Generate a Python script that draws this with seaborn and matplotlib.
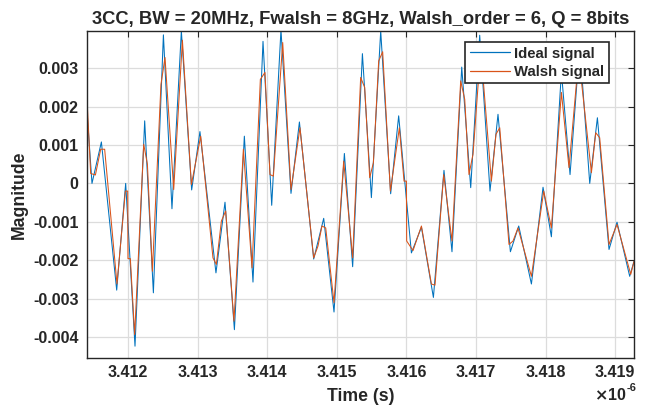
import matplotlib

matplotlib.use("Agg")

import matplotlib.pyplot as plt
from matplotlib.lines import Line2D
import numpy as np
import pandas as pd
import seaborn as sns

# time in ns, magnitude in units of 1e-3
ideal_t = [3411.411, 3411.483, 3411.618, 3411.838, 3411.967, 3412.101, 3412.240, 3412.365,
           3412.509, 3412.632, 3412.767, 3412.915, 3413.034, 3413.264, 3413.394, 3413.529,
           3413.672, 3413.796, 3413.940, 3414.065, 3414.198, 3414.342, 3414.463, 3414.668,
           3414.812, 3414.960, 3415.109, 3415.228, 3415.368, 3415.497, 3415.631, 3415.774,
           3415.889, 3416.072, 3416.216, 3416.388, 3416.540, 3416.655, 3416.795, 3416.924,
           3417.053, 3417.201, 3417.316, 3417.494, 3417.614, 3417.796, 3417.963, 3418.083,
           3418.227, 3418.351, 3418.490, 3418.634, 3418.744, 3418.911, 3419.026, 3419.208,
           3419.270]
ideal_v = [1.90, 0.00, 1.08, -2.78, 0.00, -4.24, 1.63, -2.85,
           3.87, -0.66, 3.97, -0.17, 1.35, -2.33, -0.49, -3.81,
           1.23, -2.57, 3.70, -0.57, 4.00, -0.26, 1.60, -1.97,
           -0.91, -3.35, 0.78, -2.17, 3.38, -0.37, 3.97, -0.27,
           1.76, -1.81, -1.14, -2.97, 0.34, -1.78, 3.03, -0.11,
           3.86, -0.20, 1.80, -1.78, -1.11, -2.62, -0.10, -1.39,
           2.90, 0.23, 3.60, 0.00, 1.71, -1.72, -1.01, -2.42,
           -2.03]

walsh_t = [3411.417, 3411.464, 3411.532, 3411.608, 3411.665, 3411.842, 3411.963, 3411.996,
           3412.000, 3412.034, 3412.096, 3412.226, 3412.279, 3412.351, 3412.474, 3412.532,
           3412.657, 3412.782, 3412.911, 3413.045, 3413.221, 3413.270, 3413.342, 3413.404,
           3413.523, 3413.658, 3413.782, 3413.902, 3413.968, 3414.040, 3414.089, 3414.223,
           3414.342, 3414.471, 3414.668, 3414.730, 3414.787, 3414.841, 3414.960, 3415.099,
           3415.228, 3415.343, 3415.401, 3415.473, 3415.526, 3415.602, 3415.659, 3415.770,
           3415.899, 3415.966, 3416.000, 3416.004, 3416.095, 3416.216, 3416.359, 3416.411,
           3416.536, 3416.655, 3416.780, 3416.838, 3416.899, 3416.957, 3417.068, 3417.221,
           3417.287, 3417.341, 3417.474, 3417.532, 3417.603, 3417.796, 3417.973, 3418.083,
           3418.227, 3418.336, 3418.476, 3418.658, 3418.720, 3418.777, 3418.911, 3419.026,
           3419.223, 3419.270]
walsh_v = [2.00, 0.26, 0.22, 0.89, 0.89, -2.62, -0.20, -0.20,
           -1.96, -1.96, -3.94, 1.02, 0.50, -2.29, 2.58, 3.28,
           -0.16, 3.73, -0.03, 1.23, -1.94, -2.11, -0.98, -0.72,
           -3.59, 0.89, -2.20, 2.71, 2.89, 0.23, 0.19, 3.67,
           -0.16, 1.45, -1.94, -1.63, -1.11, -1.16, -3.11, 0.58,
           -1.94, 2.76, 2.50, 0.15, 0.54, 3.19, 3.43, -0.20,
           1.45, 0.06, 0.06, -1.50, -1.75, -1.11, -2.62, -2.65,
           0.23, -1.50, 2.67, 2.19, 0.23, 0.76, 3.50, 0.06,
           1.28, 1.45, -1.59, -1.50, -1.16, -2.42, -0.20, -1.16,
           2.37, 0.41, 3.30, 0.28, 1.32, 1.19, -1.59, -1.07,
           -2.37, -2.03]

x_ticks = [3.412, 3.413, 3.414, 3.415, 3.416, 3.417, 3.418, 3.419]
y_ticks = [-0.004, -0.003, -0.002, -0.001, 0, 0.001, 0.002, 0.003]
y_labels = ["-0.004", "-0.003", "-0.002", "-0.001", "0", "0.001", "0.002", "0.003"]

BLUE = "#0072BD"
ORANGE = "#D95319"

ideal = pd.DataFrame({"t": np.array(ideal_t) / 1000, "v": np.array(ideal_v) / 1000})
walsh = pd.DataFrame({"t": np.array(walsh_t) / 1000, "v": np.array(walsh_v) / 1000})

sns.set_style("whitegrid")
plt.rcParams["font.family"] = ["Liberation Sans", "DejaVu Sans"]
plt.rcParams["font.weight"] = "bold"

fig = plt.figure(figsize=(6.51, 4.08), dpi=100)
ax = fig.add_axes([0.1336, 0.1233, 0.8403, 0.8007])

sns.lineplot(data=ideal, x="t", y="v", ax=ax, color=BLUE, lw=0.75,
             estimator=None, sort=False, solid_joinstyle="round")
sns.lineplot(data=walsh, x="t", y="v", ax=ax, color=ORANGE, lw=0.75,
             estimator=None, sort=False, solid_joinstyle="round")

ax.set_xlim(3.411411, 3.419270)
ax.set_ylim(-0.00454, 0.00397)
ax.set_xticks(x_ticks)
ax.set_xticklabels([f"{v:.3f}" for v in x_ticks])
ax.set_yticks(y_ticks)
ax.set_yticklabels(y_labels)
ax.tick_params(direction="in", length=4, width=0.8, colors="#262626",
               top=True, right=True, labelsize=11.5, pad=5)
ax.tick_params(axis="y", pad=6)
for lab in ax.get_xticklabels() + ax.get_yticklabels():
    lab.set_fontweight("bold")
ax.grid(True, color="#dcdcdc", lw=0.9)
for s in ax.spines.values():
    s.set_color("#262626")
    s.set_linewidth(1.0)

ax.set_title("3CC, BW = 20MHz, Fwalsh = 8GHz, Walsh_order = 6, Q = 8bits",
             fontsize=13.2, fontweight="bold", pad=5)
ax.set_xlabel("Time (s)", fontsize=12.7, fontweight="bold", labelpad=6)
ax.set_ylabel("Magnitude", fontsize=12.7, fontweight="bold", labelpad=4)
fig.text(0.962, 0.012, r"$\times$10", ha="right", va="bottom",
         fontsize=11.5, fontweight="bold")
fig.text(0.962, 0.037, "-6", ha="left", va="bottom", fontsize=8, fontweight="bold")

handles = [Line2D([], [], color=BLUE, lw=0.9), Line2D([], [], color=ORANGE, lw=0.9)]
leg = ax.legend(handles, ["Ideal signal", "Walsh signal"], loc="upper right",
                bbox_to_anchor=(0.954, 0.966), fontsize=10.7,
                frameon=True, fancybox=False, framealpha=1, edgecolor="#262626",
                handlelength=2.7, borderpad=0.3, labelspacing=0.3, handletextpad=0.3,
                borderaxespad=0)
leg.get_frame().set_linewidth(1.2)
for t in leg.get_texts():
    t.set_fontweight("bold")

fig.savefig("out.png", dpi=100)
